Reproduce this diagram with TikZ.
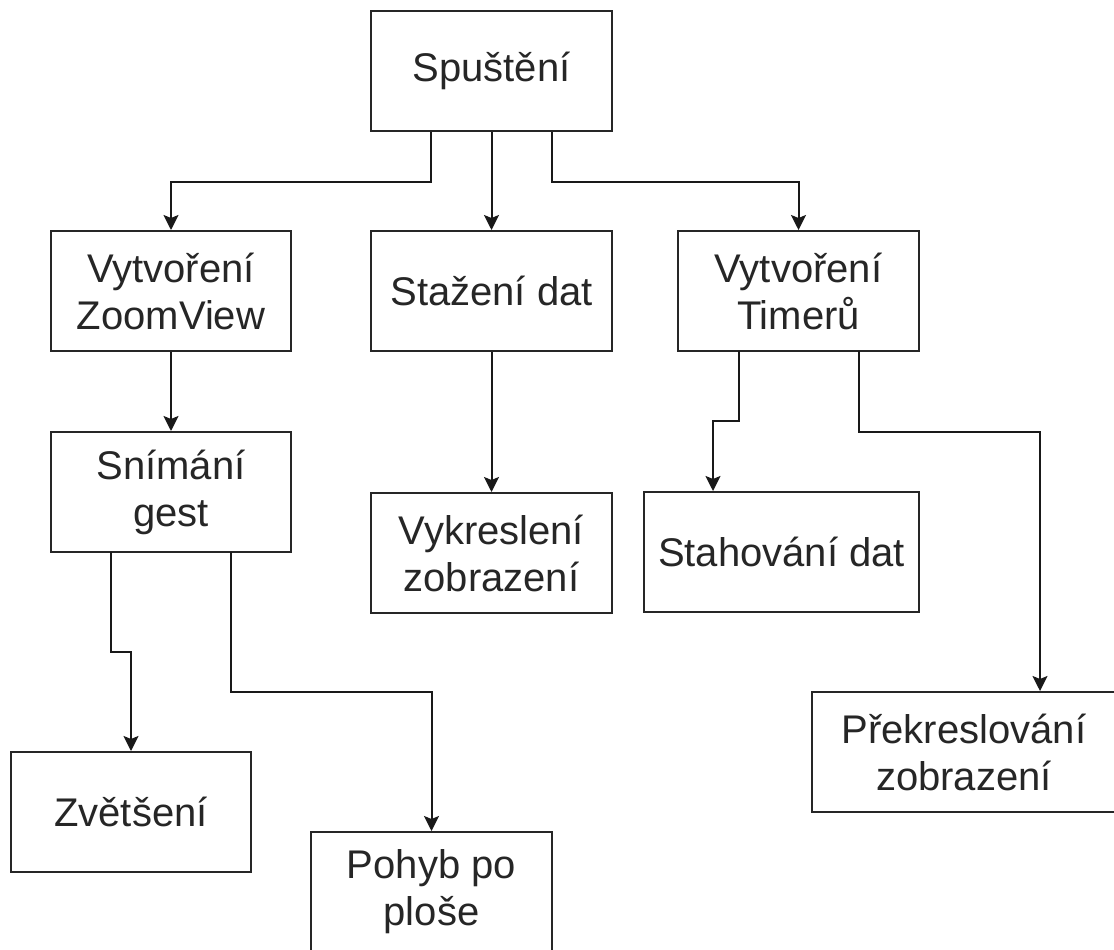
\documentclass[tikz,border=0pt]{standalone}
\usepackage{fontspec}
\setmainfont{Liberation Sans}
\usetikzlibrary{arrows.meta}

\begin{document}
\begin{tikzpicture}[x=1pt, y=-1pt,
  box/.style={draw=black!85, line width=2pt, fill=white, align=center,
    inner sep=0pt, text=black!85,
    font=\fontsize{40}{47}\selectfont},
  flow/.style={draw=black!90, line width=2pt,
    -{Stealth[length=15pt, width=15pt, inset=3pt]}}
]
\useasboundingbox (0,0) rectangle (1114,950);

% process boxes
\node[box, minimum width=241pt, minimum height=120pt] (start)   at (491.5,71)  {Spuštění};
\node[box, minimum width=240pt, minimum height=120pt] (zview)   at (171,291)   {Vytvoření\\ZoomView};
\node[box, minimum width=241pt, minimum height=120pt] (stazeni) at (491.5,291) {Stažení dat};
\node[box, minimum width=241pt, minimum height=120pt] (timer)   at (798.5,291) {Vytvoření\\Timerů};
\node[box, minimum width=240pt, minimum height=120pt] (gest)    at (171,492)   {Snímání\\gest};
\node[box, minimum width=241pt, minimum height=120pt] (vykres)  at (491.5,553) {Vykreslení\\zobrazení};
\node[box, minimum width=275pt, minimum height=120pt] (stahov)  at (781.5,552) {Stahování dat};
\node[box, minimum width=240pt, minimum height=120pt] (zvets)   at (131,812)   {Zvětšení};
\node[box, minimum width=241pt, minimum height=120pt] (pohyb)   at (431.5,892) {Pohyb po\\ploše};
\node[box, minimum width=304pt, minimum height=120pt] (prekres) at (964,752)   {Překreslování\\zobrazení};

% exit points and bends of the orthogonal connectors
\coordinate (sL) at ([xshift=-60.5pt]start.south);
\coordinate (sR) at ([xshift=60.5pt]start.south);
\coordinate (tL) at (739,351);
\coordinate (tR) at (859,351);
\coordinate (t1) at (713,421);
\coordinate (t2) at (1040,432);
\coordinate (gL) at (111,552);
\coordinate (gR) at (231,552);
\coordinate (g1) at (131,652);

% connectors
\draw[flow] (sL) -- ++(0,50) -| (zview.north);
\draw[flow] (start.south) -- (stazeni.north);
\draw[flow] (sR) -- ++(0,50) -| (timer.north);
\draw[flow] (zview.south) -- (gest.north);
\draw[flow] (stazeni.south) -- (vykres.north);
\draw[flow] (tL) |- (t1) -- (t1 |- stahov.north);
\draw[flow] (tR) |- (t2) -- (t2 |- prekres.north);
\draw[flow] (gL) |- (g1) -- (zvets.north);
\draw[flow] (gR) -- ++(0,140) -| (pohyb.north);
\end{tikzpicture}
\end{document}
